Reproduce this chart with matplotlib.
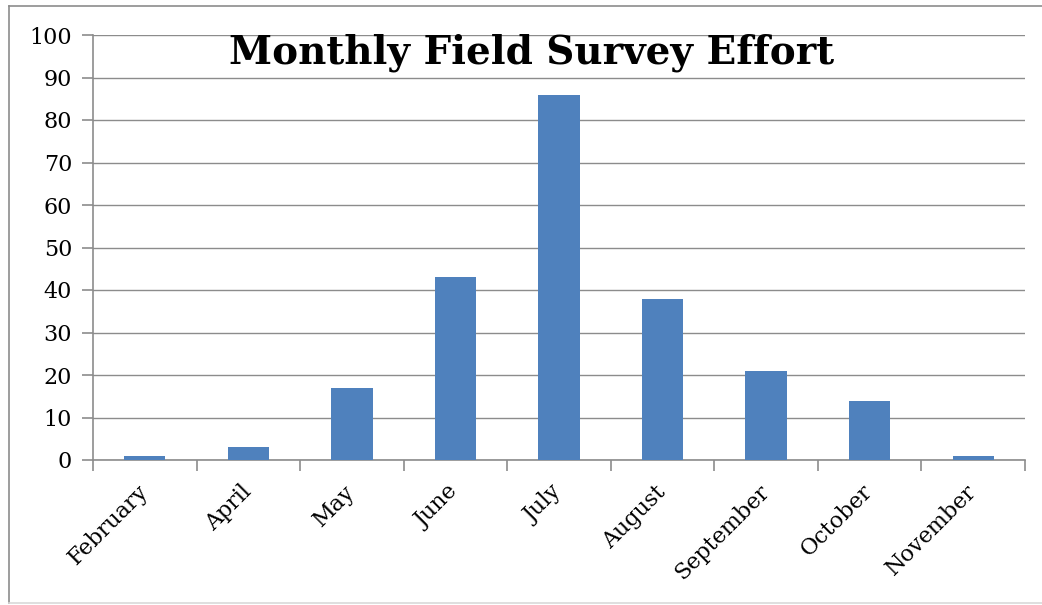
import matplotlib
matplotlib.use("Agg")
import matplotlib.pyplot as plt
import matplotlib.transforms as mtransforms
from matplotlib.lines import Line2D
import numpy as np

months = ["February", "April", "May", "June", "July", "August",
          "September", "October", "November"]
surveys = [1, 3, 17, 43, 86, 38, 21, 14, 1]
y_ticks = list(range(0, 101, 10))

W, H = 1042, 605
fig = plt.figure(figsize=(W / 100, H / 100), dpi=100)
fig.patch.set_facecolor("white")

# outer chart frame
fig.add_artist(Line2D([9 / W, 9 / W], [1 - 6 / H, 1 - 603 / H], color="#8c8c8c", lw=1.2))
fig.add_artist(Line2D([9 / W, 1.0], [1 - 6 / H, 1 - 6 / H], color="#8c8c8c", lw=1.2))
fig.add_artist(Line2D([9 / W, 1.0], [1 - 603 / H, 1 - 603 / H], color="#d9d9d9", lw=1.2))

ax = fig.add_axes([93 / W, 1 - 460 / H, (1025 - 93) / W, (460 - 35) / H])
x = np.arange(len(months))
ax.bar(x, surveys, width=0.4, color="#4F81BD", zorder=3)

ax.set_xlim(-0.5, len(months) - 0.5)
ax.set_ylim(0, 100)
ax.set_yticks(y_ticks)
ax.set_yticklabels([str(v) for v in y_ticks], fontsize=16, family="DejaVu Serif")
ax.yaxis.grid(True, color="#8c8c8c", lw=1.0, zorder=0)

ax.set_xticks(x)
ax.set_xticklabels(months, rotation=45, ha="right", rotation_mode="anchor",
                   fontsize=16, family="DejaVu Serif")
ax.tick_params(axis="x", length=0, pad=15)
shift = mtransforms.ScaledTranslation(-8 / 100, 0, fig.dpi_scale_trans)
for lab in ax.get_xticklabels():
    lab.set_transform(lab.get_transform() + shift)
ax.set_xticks(np.arange(-0.5, len(months), 1.0), minor=True)
ax.tick_params(axis="x", which="minor", length=8, width=1.2, color="#8c8c8c")
ax.tick_params(axis="y", length=8, width=1.2, color="#8c8c8c", pad=7)

for s in ["top", "right"]:
    ax.spines[s].set_visible(False)
for s in ["left", "bottom"]:
    ax.spines[s].set_color("#8c8c8c")
    ax.spines[s].set_linewidth(1.2)

fig.text(532 / W, 1 - 64 / H, "Monthly Field Survey Effort", ha="center", va="baseline",
         fontsize=28, fontweight="bold", family="DejaVu Serif")

fig.savefig("out.png", dpi=100)
